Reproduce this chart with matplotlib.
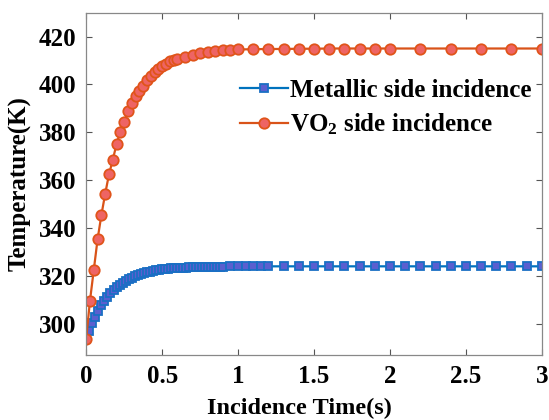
import numpy as np
import matplotlib
matplotlib.use('Agg')
import matplotlib.pyplot as plt

plt.rcParams['font.family'] = ['Liberation Serif', 'DejaVu Serif']
plt.rcParams['font.weight'] = 'bold'
plt.rcParams['mathtext.fontset'] = 'custom'
plt.rcParams['mathtext.rm'] = 'Liberation Serif:bold'
plt.rcParams['mathtext.bf'] = 'Liberation Serif:bold'
plt.rcParams['mathtext.default'] = 'bf'

# ==================== 数据 ====================
# 金属侧入射 (时间 s, 温度 K)
t_metal = [0.00, 0.02, 0.04, 0.06, 0.08, 0.10, 0.12, 0.14, 0.16, 0.18,
           0.20, 0.22, 0.24, 0.26, 0.28, 0.30, 0.32, 0.34, 0.36, 0.38,
           0.40, 0.42, 0.44, 0.46, 0.48, 0.50, 0.52, 0.54, 0.56, 0.58,
           0.60, 0.62, 0.64, 0.66, 0.68, 0.70, 0.72, 0.74, 0.76, 0.78,
           0.80, 0.82, 0.84, 0.86, 0.88, 0.90,
           0.95, 1.00, 1.05, 1.10, 1.15, 1.20,
           1.3, 1.4, 1.5, 1.6, 1.7, 1.8, 1.9, 2.0, 2.1, 2.2,
           2.3, 2.4, 2.5, 2.6, 2.7, 2.8, 2.9, 3.0]
T_metal = [293.8, 297.1, 300.2, 303.0, 305.5, 307.7, 309.6, 311.3, 312.8, 314.1,
           315.3, 316.3, 317.2, 318.0, 318.7, 319.3, 319.9, 320.4, 320.8, 321.2,
           321.5, 321.8, 322.1, 322.3, 322.5, 322.7, 322.8, 323.0, 323.1, 323.2,
           323.3, 323.4, 323.4, 323.5, 323.6, 323.6, 323.7, 323.7, 323.8, 323.8,
           323.8, 323.9, 323.9, 323.9, 323.9, 323.9,
           324.0, 324.0, 324.0, 324.0, 324.0, 324.0,
           324.0, 324.0, 324.0, 324.0, 324.0, 324.0, 324.0, 324.0, 324.0, 324.0,
           324.0, 324.0, 324.0, 324.0, 324.0, 324.0, 324.0, 324.0]

# VO2侧入射
t_vo2 = [0.000, 0.025, 0.050, 0.075, 0.100, 0.125, 0.150, 0.175, 0.200, 0.225,
         0.250, 0.275, 0.300, 0.325, 0.350, 0.375, 0.400, 0.425, 0.450, 0.475,
         0.500, 0.525, 0.550, 0.575, 0.600,
         0.65, 0.70, 0.75, 0.80, 0.85, 0.90, 0.95, 1.00,
         1.1, 1.2, 1.3, 1.4, 1.5, 1.6, 1.7, 1.8, 1.9, 2.0,
         2.2, 2.4, 2.6, 2.8, 3.0]
T_vo2 = [293.8, 309.7, 322.5, 335.3, 345.4, 354.3, 362.4, 368.5, 375.1, 380.3,
         384.3, 389.0, 392.1, 395.0, 397.1, 399.5, 401.7, 403.6, 405.0, 406.3,
         407.5, 408.6, 409.6, 410.2, 410.6,
         411.4, 412.4, 413.0, 413.6, 414.0, 414.3, 414.5, 414.6,
         414.7, 414.8, 414.8, 414.9, 414.9, 415.0, 415.0, 415.0, 415.0, 415.0,
         415.0, 415.0, 415.0, 415.0, 415.0]

x_ticks = [0, 0.5, 1, 1.5, 2, 2.5, 3]
x_ticklabels = ['0', '0.5', '1', '1.5', '2', '2.5', '3']
y_ticks = [300, 320, 340, 360, 380, 400, 420]

# ==================== 绘图 ====================
fig = plt.figure(figsize=(5.49, 4.2), dpi=100)
ax = fig.add_axes([0.157, 0.155, 0.830, 0.815])

ax.plot(t_metal, T_metal, '-s', color='#0072BD', linewidth=1.6,
        markersize=5.5, markerfacecolor='#5a5fcf', markeredgecolor='#1a6fc4',
        markeredgewidth=1.3, label='Metallic side incidence')
ax.plot(t_vo2, T_vo2, '-o', color='#D95319', linewidth=1.6,
        markersize=7.5, markerfacecolor='#EE6464', markeredgecolor='#E0541A',
        markeredgewidth=1.3, label='VO$_2$ side incidence')

ax.set_xlim(0, 3)
ax.set_ylim(287, 430)
ax.set_xticks(x_ticks)
ax.set_xticklabels(x_ticklabels)
ax.set_yticks(y_ticks)

ax.tick_params(direction='in', length=4, width=0.8, top=True, right=True,
               labelsize=18, pad=7, color='#555555')
for sp in ax.spines.values():
    sp.set_color('#888888')
    sp.set_linewidth(0.9)

ax.set_xlabel('Incidence Time(s)', fontsize=17.5, fontweight='bold')
ax.xaxis.set_label_coords(0.467, -0.125)
ax.set_ylabel('Temperature(K)', fontsize=18, fontweight='bold', labelpad=5)

leg = ax.legend(loc='upper right', bbox_to_anchor=(1.0, 0.835), frameon=False,
                fontsize=18, handlelength=1.9, handletextpad=0.1,
                labelspacing=0.38, borderaxespad=0.0)

plt.savefig('out.png', dpi=100)
